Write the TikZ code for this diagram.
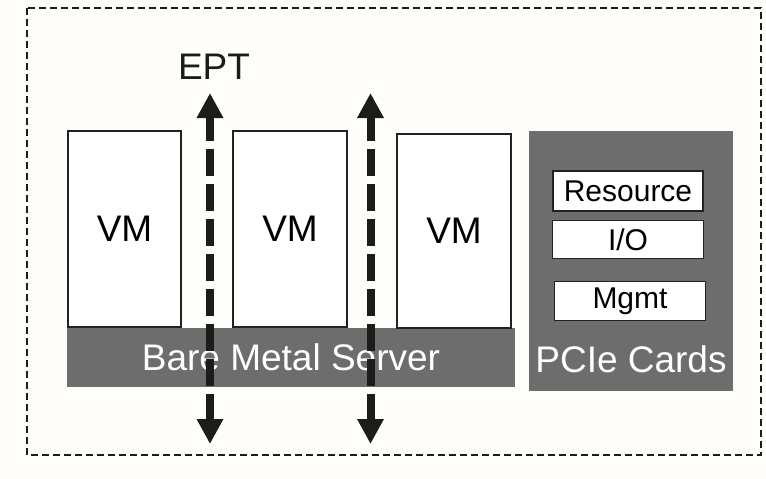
\documentclass[tikz,border=0pt]{standalone}
\usepackage{fontspec}
\setmainfont{Liberation Sans}
\usetikzlibrary{arrows.meta,positioning}
\definecolor{paperwhite}{HTML}{FEFDF9}
\definecolor{servergrey}{HTML}{6D6D6D}
\definecolor{eptblack}{HTML}{1C1C1A}
\definecolor{boxborder}{HTML}{222222}

\begin{document}
\begin{tikzpicture}[
  x=1pt, y=-1pt,
  vm/.style={rectangle, draw=boxborder, fill=white, line width=1.3pt, minimum width=113pt, minimum height=196pt, inner sep=0pt, font=\fontsize{37}{37}\selectfont},
  server/.style={rectangle, fill=servergrey, inner sep=0pt, text=white, font=\fontsize{37}{37}\selectfont},
  card/.style={rectangle, draw=boxborder, fill=white, line width=1.3pt, minimum width=151pt, minimum height=39pt, inner sep=0pt, font=\fontsize{30}{30}\selectfont},
  frame/.style={draw=eptblack, line width=1.4pt, dash pattern=on 7pt off 4pt},
  ept/.style={{Triangle[length=25pt,width=25pt]}-{Triangle[length=25pt,width=25pt]}, line width=8pt, draw=eptblack, dash pattern=on 27pt off 8pt}
]

\fill[paperwhite] (0,0) rectangle (766,479);
\useasboundingbox (0,0) rectangle (766,479);
\draw[frame] (27,8) rectangle (761,455);

\node[server, minimum width=448pt, minimum height=59pt] (bms) at (291,357.5) {Bare Metal Server};

\node[vm] (vm1) at (124.5,229) {VM};
\node[vm, minimum width=114pt] (vm2) at (290,229) {VM};
\node[vm, minimum width=114pt, minimum height=194pt] (vm3) at (454,231) {VM};

\node[server, minimum width=204pt, minimum height=260pt] (pcie) at (631,261) {};
\node[server, fill=none] (pcielabel) at (631,359) {PCIe Cards};

\node[card, minimum width=150pt, minimum height=40pt] (resource) at (628,191) {Resource};
\node[card, minimum height=38pt, below=8pt of resource] (io) {I/O};
\node[card, below=22pt of io, xshift=2pt] (mgmt) {Mgmt};

\node[font=\fontsize{37}{37}\selectfont, text=eptblack] (eptlabel) at (214,66.7) {EPT};

\coordinate (ept1top) at (210,93);
\coordinate (ept1bot) at (210,444);
\coordinate (ept2top) at (370.5,93);
\coordinate (ept2bot) at (370.5,444);

\draw[ept] (ept1bot) -- (ept1top);
\draw[ept] (ept2bot) -- (ept2top);

\end{tikzpicture}
\end{document}
